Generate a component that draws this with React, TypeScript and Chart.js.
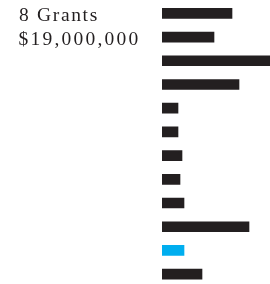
import React, { useEffect, useRef } from "react";
import { Chart, registerables } from "chart.js";

Chart.register(...registerables);

const titleLines = ["8 Grants", "$19,000,000"];
const categories = ["1", "2", "3", "4", "5", "6", "7", "8", "9", "10", "11", "12"];
const values = [70, 52, 110, 77, 16, 16, 20, 18, 22, 87, 22, 40];
const highlightIndex = 10;
const barColor = "#231f20";
const highlightColor = "#00aeef";

// text layout: [left, right, baseline] for each title line
const titleBoxes = [
  [19, 97.3, 20.6],
  [18.5, 138.3, 44.6],
];

const titlePlugin = {
  id: "titleText",
  afterDraw(chart: any) {
    const ctx = chart.ctx as CanvasRenderingContext2D;
    ctx.save();
    ctx.font = "19.5px 'Liberation Serif', 'Times New Roman', serif";
    ctx.fillStyle = "#231f20";
    ctx.textBaseline = "alphabetic";
    ctx.textAlign = "left";
    titleLines.forEach((line, li) => {
      const [left, right, base] = titleBoxes[li];
      const chars = Array.from(line);
      const w = ctx.measureText(line).width;
      const spacing = (right - left - w) / (chars.length - 1);
      let x = left;
      chars.forEach((c) => {
        ctx.fillText(c, x, base);
        x += ctx.measureText(c).width + spacing;
      });
    });
    ctx.restore();
  },
};

export default function App() {
  const ref = useRef<HTMLCanvasElement | null>(null);

  useEffect(() => {
    if (!ref.current) return;
    const chart = new Chart(ref.current, {
      type: "bar",
      data: {
        labels: categories,
        datasets: [
          {
            data: values,
            backgroundColor: values.map((_, i) => (i === highlightIndex ? highlightColor : barColor)),
            barThickness: 10,
            borderWidth: 0,
          },
        ],
      },
      options: {
        indexAxis: "y",
        animation: false,
        responsive: false,
        maintainAspectRatio: false,
        layout: { padding: { left: 162, right: 0, top: 1.5, bottom: 0 } },
        plugins: { legend: { display: false }, tooltip: { enabled: false }, title: { display: false } },
        scales: {
          x: { display: false, min: 0, max: 108 },
          y: { display: false, offset: true, grid: { display: false } },
        },
      },
      plugins: [titlePlugin],
    });
    return () => chart.destroy();
  }, []);

  return (
    <div style={{ position: "fixed", left: 0, top: 0, width: 270, height: 284, overflow: "hidden", background: "#fff" }}>
      <canvas ref={ref} width={270} height={286} style={{ position: "absolute", left: 0, top: 0, width: 270, height: 286 }} />
    </div>
  );
}
